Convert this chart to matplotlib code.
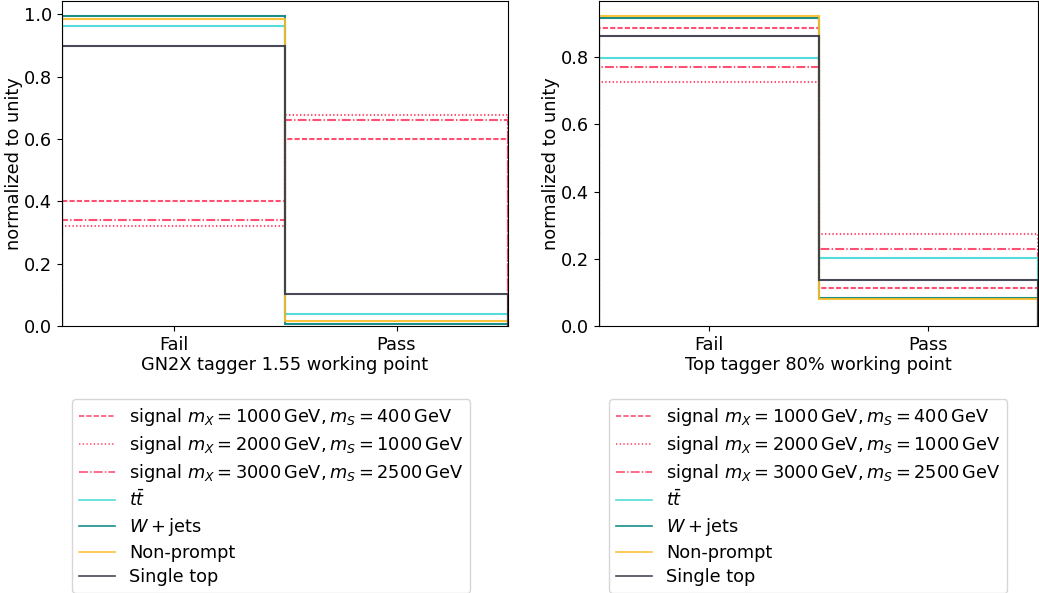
import numpy as np
import matplotlib
matplotlib.use('Agg')
import matplotlib.pyplot as plt
from matplotlib.lines import Line2D

# categories
categories = ['Fail', 'Pass']
bin_edges = [0, 1, 2]

labels = [r'signal $m_X = 1000\,\mathrm{GeV}, m_S = 400\,\mathrm{GeV}$',
          r'signal $m_X = 2000\,\mathrm{GeV}, m_S = 1000\,\mathrm{GeV}$',
          r'signal $m_X = 3000\,\mathrm{GeV}, m_S = 2500\,\mathrm{GeV}$',
          r'$t\bar{t}$',
          r'$W + \mathrm{jets}$',
          'Non-prompt',
          'Single top']

# normalized fractions (Fail, Pass) - GN2X tagger
gn2x_sig_1000_400 = [0.40, 0.60]
gn2x_sig_2000_1000 = [0.322, 0.678]
gn2x_sig_3000_2500 = [0.34, 0.66]
gn2x_ttbar = [0.962, 0.038]
gn2x_wjets = [0.993, 0.007]
gn2x_nonprompt = [0.984, 0.016]
gn2x_singletop = [0.897, 0.103]

# normalized fractions (Fail, Pass) - Top tagger
top_sig_1000_400 = [0.887, 0.113]
top_sig_2000_1000 = [0.725, 0.275]
top_sig_3000_2500 = [0.771, 0.229]
top_ttbar = [0.798, 0.202]
top_wjets = [0.916, 0.084]
top_nonprompt = [0.921, 0.079]
top_singletop = [0.862, 0.138]

colors = ['#ff3d64', '#ff3d64', '#ff3d64', '#40d9d6', '#00827f', '#fbbd24', '#353545']
styles = ['--', ':', '-.', '-', '-', '-', '-']

plt.rcParams['font.size'] = 12.8
plt.rcParams['lines.scale_dashes'] = False
fig = plt.figure(figsize=(10.39, 5.93), dpi=100)
ax1 = fig.add_axes([62/1039, 1-326/593, 446/1039, 325/593])
ax2 = fig.add_axes([599/1039, 1-326/593, 439/1039, 325/593])

def draw(ax, series, xlabel):
    for vals, c, ls, lab in zip(series, colors, styles, labels):
        ax.hist([0.5, 1.5], bins=bin_edges, weights=vals, histtype='step',
                color=c, linestyle=ls, linewidth=1.5, alpha=0.9, label=lab)
    ax.set_xticks([0.5, 1.5])
    ax.set_xticklabels(categories)
    ax.set_xlim(0, 2)
    ax.set_xlabel(xlabel, labelpad=2)
    ax.set_ylabel('normalized to unity', labelpad=1)

draw(ax1, [gn2x_sig_1000_400, gn2x_sig_2000_1000, gn2x_sig_3000_2500,
           gn2x_ttbar, gn2x_wjets, gn2x_nonprompt, gn2x_singletop],
     'GN2X tagger 1.55 working point')
draw(ax2, [top_sig_1000_400, top_sig_2000_1000, top_sig_3000_2500,
           top_ttbar, top_wjets, top_nonprompt, top_singletop],
     'Top tagger 80% working point')

handles = [Line2D([], [], color=c, linestyle=ls, linewidth=1.2, alpha=0.9) for c, ls in zip(colors, styles)]

fig.legend(handles, labels, loc='upper left', bbox_to_anchor=(72/1039, 1-399/593),
           labelspacing=0.33, borderaxespad=0)
fig.legend(handles, labels, loc='upper left', bbox_to_anchor=(609/1039, 1-399/593),
           labelspacing=0.33, borderaxespad=0)

fig.savefig('out.png', dpi=100)
